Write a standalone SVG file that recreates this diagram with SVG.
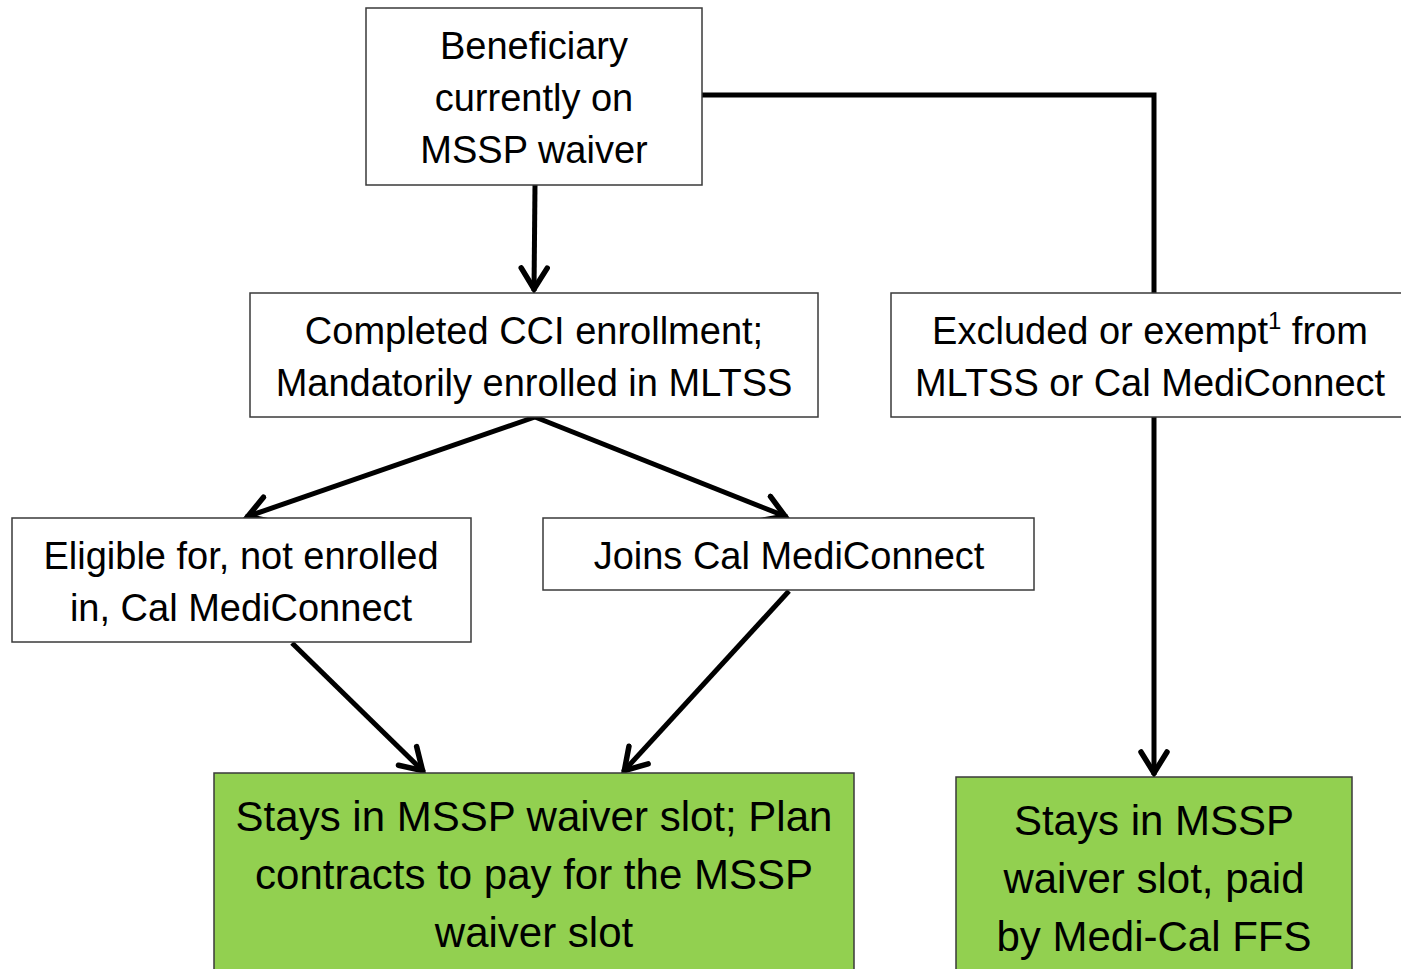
<svg xmlns="http://www.w3.org/2000/svg" width="1401" height="969" viewBox="0 0 1401 969">
<style>
.box{fill:#ffffff;stroke:#3a3a3a;stroke-width:1.5}
.green{fill:#92d050;stroke:#3a3a3a;stroke-width:1.5}
.t{font-family:"Liberation Sans",Arial,sans-serif;font-size:38px;fill:#000;text-anchor:middle}
.tg{font-family:"Liberation Sans",Arial,sans-serif;font-size:42px;fill:#000;text-anchor:middle}
.c{fill:none;stroke:#000;stroke-width:5}
</style>
<defs>
<marker id="arr" markerUnits="userSpaceOnUse" viewBox="0 0 30 32" markerWidth="30" markerHeight="32" refX="26" refY="16" orient="auto">
<path d="M3,3 L24,16 L3,29" fill="none" stroke="#000" stroke-width="5.5" stroke-linecap="round" stroke-linejoin="miter"/>
</marker>
</defs>
<rect width="1401" height="969" fill="#ffffff"/>
<g id="connectors">
<line class="c" x1="535" y1="185" x2="534" y2="291" marker-end="url(#arr)"/>
<polyline class="c" points="702,95 1154,95 1154,293"/>
<line class="c" x1="1154" y1="417" x2="1154" y2="775" marker-end="url(#arr)"/>
<line class="c" x1="535" y1="417" x2="246" y2="517" marker-end="url(#arr)"/>
<line class="c" x1="535" y1="417" x2="787" y2="517" marker-end="url(#arr)"/>
<line class="c" x1="292" y1="643" x2="424" y2="772" marker-end="url(#arr)"/>
<line class="c" x1="789" y1="591" x2="623" y2="772" marker-end="url(#arr)"/>
</g>
<g id="n1">
<rect class="box" x="366" y="8" width="336" height="177"/>
<text class="t" x="534" y="59">Beneficiary</text>
<text class="t" x="534" y="111">currently on</text>
<text class="t" x="534" y="163">MSSP waiver</text>
</g>
<g id="n2">
<rect class="box" x="250" y="293" width="568" height="124"/>
<text class="t" x="534" y="344">Completed CCI enrollment;</text>
<text class="t" x="534" y="396">Mandatorily enrolled in MLTSS</text>
</g>
<g id="n3">
<rect class="box" x="891" y="293" width="520" height="124"/>
<text class="t" x="1150" y="344">Excluded or exempt<tspan dy="-15" font-size="24">1</tspan><tspan dy="15"> from</tspan></text>
<text class="t" x="1150" y="396">MLTSS or Cal MediConnect</text>
</g>
<g id="n4">
<rect class="box" x="12" y="518" width="459" height="124"/>
<text class="t" x="241" y="569">Eligible for, not enrolled</text>
<text class="t" x="241" y="621">in, Cal MediConnect</text>
</g>
<g id="n5">
<rect class="box" x="543" y="518" width="491" height="72"/>
<text class="t" x="789" y="569">Joins Cal MediConnect</text>
</g>
<g id="n6">
<rect class="green" x="214" y="773" width="640" height="210"/>
<text class="tg" x="534" y="831">Stays in MSSP waiver slot; Plan</text>
<text class="tg" x="534" y="889">contracts to pay for the MSSP</text>
<text class="tg" x="534" y="947">waiver slot</text>
</g>
<g id="n7">
<rect class="green" x="956" y="777" width="396" height="210"/>
<text class="tg" x="1154" y="835">Stays in MSSP</text>
<text class="tg" x="1154" y="893">waiver slot, paid</text>
<text class="tg" x="1154" y="951">by Medi-Cal FFS</text>
</g>
</svg>
